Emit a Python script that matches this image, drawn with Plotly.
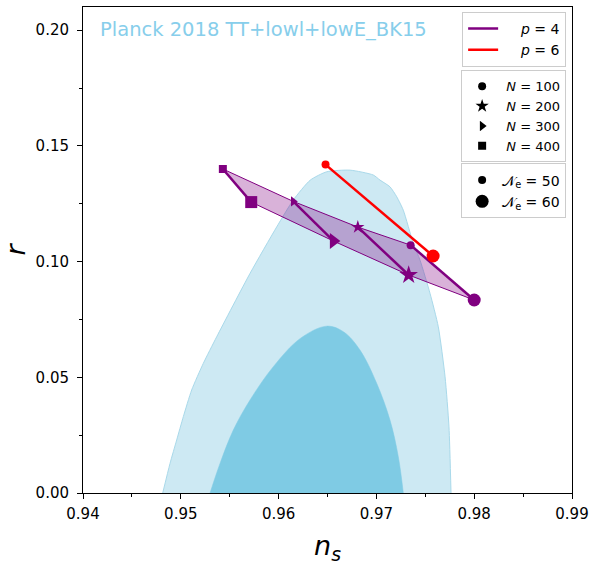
import plotly.graph_objects as go

# ---------------- data ----------------
N_values = [100, 200, 300, 400]
N_symbols = ["circle", "star", "triangle-right", "square"]

# p = 4 predictions, N_e = 50 (small markers) and N_e = 60 (large markers), ordered N=100..400
ns_p4_Ne50 = [0.9735, 0.9681, 0.9615, 0.9543]
r_p4_Ne50 = [0.1071, 0.1149, 0.1260, 0.1400]
ns_p4_Ne60 = [0.9800, 0.9733, 0.9656, 0.9572]
r_p4_Ne60 = [0.0834, 0.0942, 0.1089, 0.1257]

# p = 6, N = 100: N_e = 50, 60
ns_p6 = [0.9648, 0.9758]
r_p6 = [0.1419, 0.1024]

# Planck 2018 TT+lowl+lowE_BK15 contours
ns_95 = [0.94815, 0.94890, 0.94958, 0.95026, 0.95111, 0.95230, 0.95367,
         0.95708, 0.95981, 0.96150, 0.96324, 0.96492, 0.96730, 0.96968, 0.97037,
         0.97139, 0.97208, 0.97275, 0.97377, 0.97446, 0.97548, 0.97633, 0.97702,
         0.97742, 0.97763]
r_95 = [0.0, 0.0128, 0.0229, 0.0330, 0.0445, 0.0560, 0.0675,
        0.0949, 0.1150, 0.1266, 0.1352, 0.1388, 0.1395, 0.1374, 0.1352,
        0.1323, 0.1280, 0.1222, 0.1079, 0.1006, 0.0863, 0.0718, 0.0502,
        0.0286, 0.0]
ns_68 = [0.95299, 0.95401, 0.95537, 0.95708, 0.95946, 0.96222, 0.96492, 0.96662,
         0.96832, 0.97003, 0.97139, 0.97224, 0.97275]
r_68 = [0.0, 0.0128, 0.0272, 0.0402, 0.0546, 0.0668, 0.0721, 0.0697,
        0.0618, 0.0474, 0.0315, 0.0157, 0.0]

x_ticks = [0.94, 0.95, 0.96, 0.97, 0.98, 0.99]
y_ticks = [0.00, 0.05, 0.10, 0.15, 0.20]

PURPLE = "#800080"
RED = "#FF0000"
FONT = "DejaVu Sans"

fig = go.Figure()

# contours
fig.add_trace(go.Scatter(x=ns_95, y=r_95, mode="lines", fill="toself",
                         fillcolor="#CDE9F3",
                         line=dict(color="#A9D9EA", width=1, shape="spline", smoothing=0.6),
                         showlegend=False, hoverinfo="skip"))
fig.add_trace(go.Scatter(x=ns_68, y=r_68, mode="lines", fill="toself",
                         fillcolor="#7FCBE4",
                         line=dict(color="#7FCBE4", width=0.5, shape="spline", smoothing=1.0),
                         showlegend=False, hoverinfo="skip"))

# shaded band for p = 4
poly_x = ns_p4_Ne50[::-1] + ns_p4_Ne60 + [ns_p4_Ne50[-1]]
poly_y = r_p4_Ne50[::-1] + r_p4_Ne60 + [r_p4_Ne50[-1]]
fig.add_trace(go.Scatter(x=poly_x, y=poly_y, mode="lines", fill="toself",
                         fillcolor="rgba(128,0,128,0.3)",
                         line=dict(color=PURPLE, width=1),
                         showlegend=False, hoverinfo="skip"))

small_sizes = {"circle": 8, "star": 10, "triangle-right": 9, "square": 8}
large_sizes = {"circle": 13, "star": 14, "triangle-right": 14, "square": 12}

# p = 4 lines for each N
for i, N in enumerate(N_values):
    sym = N_symbols[i]
    fig.add_trace(go.Scatter(x=[ns_p4_Ne50[i], ns_p4_Ne60[i]], y=[r_p4_Ne50[i], r_p4_Ne60[i]],
                             mode="lines+markers",
                             line=dict(color=PURPLE, width=2.5),
                             marker=dict(symbol=sym, color=PURPLE, opacity=1,
                                         size=[small_sizes[sym], large_sizes[sym]],
                                         line=dict(width=0)),
                             showlegend=False, hoverinfo="skip"))

# p = 6
fig.add_trace(go.Scatter(x=ns_p6, y=r_p6, mode="lines+markers",
                         line=dict(color=RED, width=2.5),
                         marker=dict(symbol="circle", color=RED, size=[8, 13], opacity=1,
                                     line=dict(width=0)),
                         showlegend=False, hoverinfo="skip"))

# ---------------- legends ----------------
NB = "\u00a0"
fig.add_trace(go.Scatter(x=[None], y=[None], mode="lines", line=dict(color=PURPLE, width=2.5),
                         name=NB * 4 + "<i>p</i> = 4", legend="legend"))
fig.add_trace(go.Scatter(x=[None], y=[None], mode="lines", line=dict(color=RED, width=2.5),
                         name=NB * 4 + "<i>p</i> = 6", legend="legend"))
for i, N in enumerate(N_values):
    sym = N_symbols[i]
    fig.add_trace(go.Scatter(x=[None], y=[None], mode="markers",
                             marker=dict(symbol=sym, color="black", size=small_sizes[sym]),
                             name=NB + f"<i>N</i> = {N}", legend="legend2"))
fig.add_trace(go.Scatter(x=[None], y=[None], mode="markers",
                         marker=dict(symbol="circle", color="black", size=8),
                         name="\U0001D4A9<sub>e</sub> = 50", legend="legend3"))
fig.add_trace(go.Scatter(x=[None], y=[None], mode="markers",
                         marker=dict(symbol="circle", color="black", size=13),
                         name="\U0001D4A9<sub>e</sub> = 60", legend="legend3"))

leg_common = dict(xanchor="right", yanchor="top", bgcolor="rgba(255,255,255,0.8)",
                  bordercolor="#CCCCCC", borderwidth=1,
                  itemclick=False, itemdoubleclick=False)

fig.add_annotation(x=0.03, y=0.953, xref="paper", yref="paper", xanchor="left", yanchor="middle",
                   text="Planck 2018 TT+lowl+lowE_BK15", showarrow=False,
                   font=dict(family=FONT, size=19.5, color="#87CEEB"))

axis_common = dict(ticks="outside", ticklen=5, tickwidth=1, tickcolor="black",
                   showline=True, linecolor="black", linewidth=1, mirror=True,
                   showgrid=False, zeroline=False, automargin=False,
                   tickfont=dict(family=FONT, size=15, color="black"))

fig.update_layout(
    width=596, height=565,
    margin=dict(l=83, r=24, t=7, b=72),
    plot_bgcolor="white", paper_bgcolor="white",
    font=dict(family=FONT, color="black"),
    legend=dict(x=0.988, y=0.990, font=dict(family=FONT, size=14, color="black"), **leg_common),
    legend2=dict(x=0.988, y=0.870, font=dict(family=FONT, size=13, color="black"), **leg_common),
    legend3=dict(x=0.988, y=0.678, font=dict(family=FONT, size=14, color="black"), **leg_common),
    xaxis=dict(range=[0.94, 0.99], tickvals=x_ticks, ticktext=[f"{v:.2f}" for v in x_ticks],
               minor=dict(dtick=0.005, tick0=0.94, ticks="outside", ticklen=3, tickwidth=1,
                          tickcolor="black", showgrid=False),
               ticklabelstandoff=2,
               title=dict(text="<i>n</i><sub><i>s</i></sub>", font=dict(family=FONT, size=27), standoff=14),
               **axis_common),
    yaxis=dict(range=[0, 0.21], tickvals=y_ticks, ticktext=[f"{v:.2f}" for v in y_ticks],
               minor=dict(dtick=0.025, tick0=0, ticks="outside", ticklen=3, tickwidth=1,
                          tickcolor="black", showgrid=False),
               ticklabelstandoff=5,
               title=dict(text="<i>r</i>", font=dict(family=FONT, size=27), standoff=14),
               **axis_common),
)

fig.write_html("out.html")
